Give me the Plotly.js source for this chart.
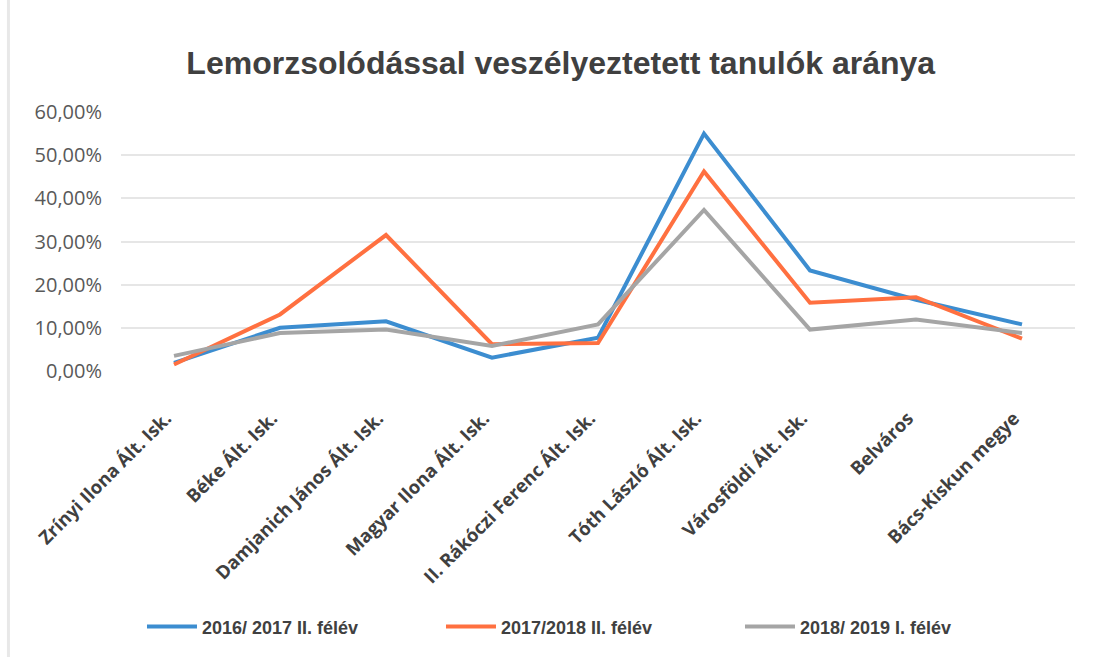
<!DOCTYPE html>
<html>
<head>
<meta charset="utf-8">
<script src="https://cdn.plot.ly/plotly-3.0.1.min.js"></script>
<style>
html,body{margin:0;padding:0;background:#fff;}
#chart{width:1093px;height:657px;}
</style>
</head>
<body>
<div id="chart"></div>
<script>
const categories = [
  "Zrínyi Ilona Ált. Isk.",
  "Béke Ált. Isk.",
  "Damjanich János Ált. Isk.",
  "Magyar Ilona Ált. Isk.",
  "II. Rákóczi Ferenc Ált. Isk.",
  "Tóth László Ált. Isk.",
  "Városföldi Ált. Isk.",
  "Belváros",
  "Bács-Kiskun megye"
];
const seriesNames = ["2016/ 2017 II. félév", "2017/2018 II. félév", "2018/ 2019 I. félév"];
const s2016 = [0.019, 0.100, 0.115, 0.031, 0.077, 0.550, 0.233, 0.165, 0.108];
const s2017 = [0.015, 0.131, 0.315, 0.062, 0.065, 0.462, 0.158, 0.171, 0.075];
const s2018 = [0.035, 0.088, 0.096, 0.058, 0.108, 0.373, 0.096, 0.119, 0.088];
const yTickVals = [0, 0.1, 0.2, 0.3, 0.4, 0.5, 0.6];
const yTickText = ["0,00%", "10,00%", "20,00%", "30,00%", "40,00%", "50,00%", "60,00%"];

const colors = ["#3C8DD0", "#FF7040", "#A5A5A5"];
const allSeries = [s2016, s2017, s2018];

const traces = allSeries.map((s, i) => ({
  type: "scatter",
  mode: "lines",
  x: categories,
  y: s,
  name: seriesNames[i],
  line: {color: colors[i], width: 4}
}));

const layout = {
  width: 1093,
  height: 657,
  paper_bgcolor: "#ffffff",
  plot_bgcolor: "#ffffff",
  margin: {l: 121, r: 18, t: 112, b: 286},
  title: {
    text: "Lemorzsolódással veszélyeztetett tanulók aránya",
    font: {family: "Liberation Sans, Arial, sans-serif", size: 32, color: "#404040", weight: 700},
    x: 0.513, xanchor: "center",
    y: 0.905, yanchor: "middle"
  },
  xaxis: {
    type: "category",
    range: [-0.5, 8.5],
    tickangle: -45,
    tickfont: {family: "Open Sans, sans-serif", size: 18.5, color: "#404040", weight: 700},
    ticklabelstandoff: 32,
    ticklabelshift: -8,
    showgrid: false,
    showline: false,
    ticks: "",
    zeroline: false,
    automargin: false
  },
  yaxis: {
    range: [0, 0.6],
    tickvals: yTickVals,
    ticktext: yTickText,
    tickfont: {family: "Open Sans, sans-serif", size: 20, color: "#595959"},
    ticklabelstandoff: 18,
    showgrid: true,
    gridcolor: "#E6E6E6",
    gridwidth: 2,
    zeroline: false,
    showline: false,
    ticks: "",
    automargin: false
  },
  showlegend: true,
  legend: {
    orientation: "h",
    x: 0.022, xanchor: "left",
    y: -0.988, yanchor: "middle",
    font: {family: "Liberation Sans, Arial, sans-serif", size: 18, color: "#404040", weight: 700},
    entrywidth: 234,
    entrywidthmode: "pixels",
    itemwidth: 50,
    tracegroupgap: 0,
    bgcolor: "rgba(0,0,0,0)"
  },
  shapes: [
    {type: "line", xref: "paper", yref: "paper", x0: -0.118, x1: -0.118, y0: -1.2, y1: 1.55,
     line: {color: "#E8E8E8", width: 3}}
  ]
};

Plotly.newPlot("chart", traces, layout, {displayModeBar: false, staticPlot: true});
</script>
</body>
</html>
